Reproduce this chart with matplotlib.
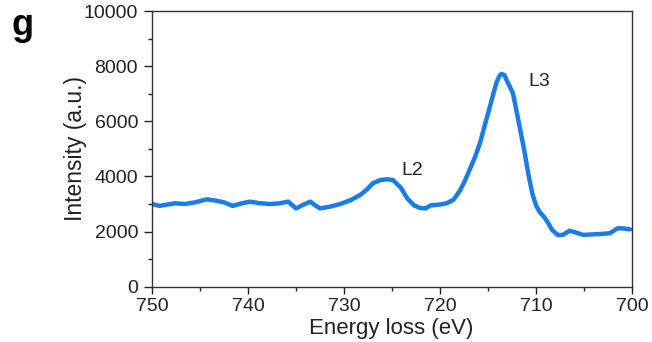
import matplotlib
matplotlib.use("Agg")
import matplotlib.pyplot as plt
from matplotlib.ticker import MultipleLocator

plt.rcParams['font.family'] = ['Liberation Sans', 'DejaVu Sans']

energy = [750.0, 749.2, 748.4, 747.6, 746.6, 745.5, 744.3, 743.3, 742.4, 741.6, 740.7,
          739.8, 738.8, 737.7, 736.8, 735.8, 735.0, 734.2, 733.5, 733.0, 732.5, 731.5,
          730.4, 729.3, 728.3, 727.6, 727.0, 726.2, 725.5, 724.9, 724.1, 723.4, 722.7,
          722.1, 721.5, 721.0, 720.0, 719.3, 718.6, 717.9, 717.4, 716.9, 716.3, 715.8,
          715.3, 714.8, 714.4, 714.1, 713.8, 713.6, 713.3, 713.0, 712.4, 711.7, 711.2,
          710.8, 710.4, 710.0, 709.6, 709.2, 708.8, 708.3, 707.7, 707.2, 706.5, 705.8,
          705.1, 704.0, 703.3, 702.3, 701.5, 700.8, 700.2]
intensity = [3000, 2930, 2980, 3025, 3000, 3060, 3170, 3120, 3050, 2930, 3020,
             3085, 3030, 3000, 3020, 3085, 2840, 2980, 3085, 2950, 2840, 2900,
             3000, 3140, 3330, 3530, 3750, 3870, 3895, 3870, 3600, 3200, 2950,
             2860, 2840, 2950, 2980, 3030, 3150, 3500, 3850, 4250, 4750, 5250,
             5900, 6530, 7050, 7420, 7650, 7720, 7680, 7450, 7020, 5800, 4900,
             4100, 3400, 2950, 2700, 2550, 2350, 2050, 1870, 1880, 2030, 1960,
             1880, 1900, 1910, 1940, 2120, 2110, 2080]

xticks = [750, 740, 730, 720, 710, 700]
yticks = [0, 2000, 4000, 6000, 8000, 10000]

fig = plt.figure(figsize=(6.52, 3.42), dpi=100)
ax = fig.add_axes([0.2331, 0.1617, 0.7362, 0.8061])
ax.plot(energy, intensity, color='#1a7ce8', lw=3.2, solid_capstyle='round',
        solid_joinstyle='round')

ax.set_xlim(750, 700)
ax.set_ylim(0, 10000)
ax.set_xticks(xticks)
ax.set_yticks(yticks)
ax.xaxis.set_minor_locator(MultipleLocator(5))
ax.yaxis.set_minor_locator(MultipleLocator(1000))
ax.tick_params(which='both', direction='out', top=False, right=False,
               labelsize=14, colors='#222222', width=1.0)
ax.tick_params(which='major', length=5, pad=3)
ax.tick_params(axis='y', which='major', length=6, pad=4)
ax.tick_params(which='minor', length=3)
for s in ax.spines.values():
    s.set_color('#333333')
    s.set_linewidth(1.0)

ax.set_xlabel('Energy loss (eV)', fontsize=16, color='#222222')
ax.set_ylabel('Intensity (a.u.)', fontsize=16.5, color='#222222')
ax.xaxis.set_label_coords(0.498, -0.112)
ax.yaxis.set_label_coords(-0.16, 0.5)
ax.yaxis.label.set_va('center')

ax.text(724.0, 4050, 'L2', fontsize=14, ha='left', va='baseline', color='#222222')
ax.text(710.8, 7280, 'L3', fontsize=14, ha='left', va='baseline', color='#222222')

fig.text(0.018, 0.925, 'g', fontsize=26, fontweight='bold', va='center')

fig.savefig('out.png', dpi=100)
